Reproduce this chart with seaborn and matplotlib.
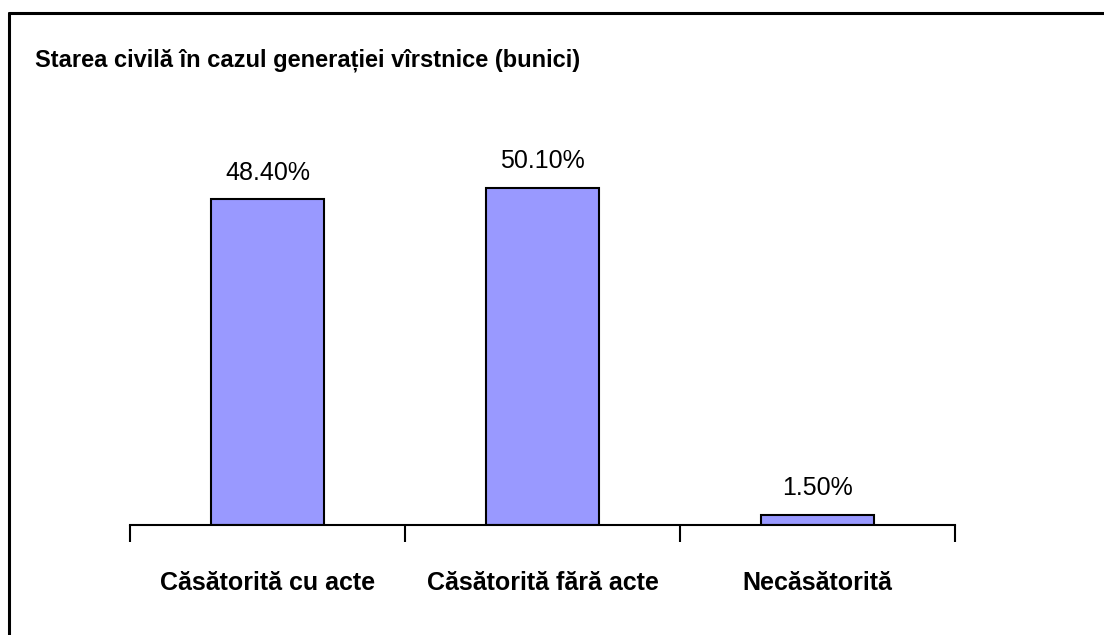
import matplotlib
matplotlib.use("Agg")
import matplotlib.pyplot as plt
import seaborn as sns
import pandas as pd
from matplotlib.lines import Line2D

categories = ["Căsătorită cu acte", "Căsătorită fără acte", "Necăsătorită"]
values = [48.4, 50.1, 1.5]
value_labels = ["48.40%", "50.10%", "1.50%"]
title = "Starea civilă în cazul generației vîrstnice (bunici)"

sns.set_theme(style="white")
plt.rcParams["font.family"] = ["Liberation Sans Narrow", "Liberation Sans", "DejaVu Sans"]

df = pd.DataFrame({"cat": categories, "val": values})

W, H = 1104, 635
fig = plt.figure(figsize=(W / 100, H / 100), dpi=100)
ax = fig.add_axes([130 / W, 110 / H, 825 / W, 404 / H])

sns.barplot(data=df, x="cat", y="val", color="#9999FF", saturation=1,
            width=0.41, edgecolor="black", linewidth=1.5, ax=ax)

ax.set_xlim(-0.5, 2.5)
ax.set_ylim(0, 60)
ax.set_xlabel("")
ax.set_ylabel("")
ax.set_yticks([])
for s in ["top", "right", "left"]:
    ax.spines[s].set_visible(False)
ax.spines["bottom"].set_color("black")
ax.spines["bottom"].set_linewidth(1.5)

# boundary ticks between categories, labels centred under bars
ax.set_xticks([-0.5, 0.5, 1.5, 2.5])
ax.set_xticklabels([])
ax.tick_params(axis="x", which="major", direction="out", length=12, width=1.5,
               color="black", bottom=True)
ax.set_xticks(range(len(categories)), minor=True)
ax.set_xticklabels(categories, minor=True, fontsize=18, fontweight="bold")
ax.tick_params(axis="x", which="minor", length=0, pad=33, labelcolor="black")

for i, (v, lab) in enumerate(zip(values, value_labels)):
    ax.annotate(lab, (i, v), xytext=(0, 10.5), textcoords="offset points",
                ha="center", va="bottom", fontsize=18, color="black")

fig.text(35 / W, 1 - 60 / H, title, fontsize=17, fontweight="bold",
         ha="left", va="center", color="black")

# frame: only the left and top edges show in the reference
fig.add_artist(Line2D([9 / W, 9 / W], [0, 1 - 13 / H], transform=fig.transFigure,
                      color="black", linewidth=2.2))
fig.add_artist(Line2D([9 / W, 1], [1 - 13 / H, 1 - 13 / H], transform=fig.transFigure,
                      color="black", linewidth=2.2))

fig.savefig("out.png", dpi=100)
